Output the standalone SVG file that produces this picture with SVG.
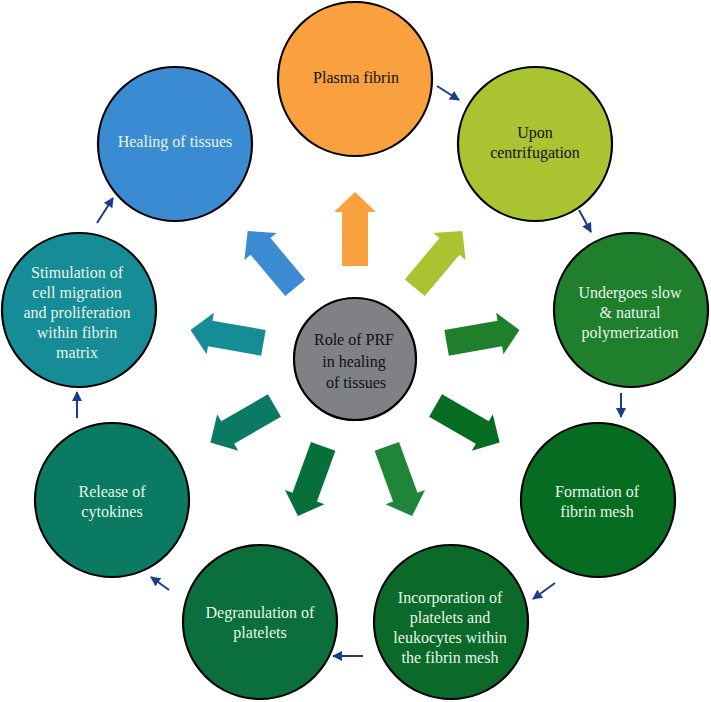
<svg xmlns="http://www.w3.org/2000/svg" width="711" height="702" viewBox="0 0 711 702">
<defs>
<style>
.node{stroke:#000;stroke-width:2.2}
.t{font-family:"Liberation Serif",serif;font-size:16px;text-anchor:middle}
.dk{fill:#111}
.lt{fill:#e6f7e8}
.link{stroke:#1c3c8c;stroke-width:2;fill:none;marker-end:url(#ah)}
</style>
<marker id="ah" viewBox="0 0 10 10" refX="9" refY="5" markerWidth="5" markerHeight="5" orient="auto" markerUnits="strokeWidth">
<path d="M0,0 L10,5 L0,10 z" fill="#1c3c8c"/>
</marker>
<polygon id="blk" points="448,346 502,346 502,338 522,359 502,380 502,372 448,372"/>
</defs>
<rect width="711" height="702" fill="#fff"/>

<g id="big-arrows">
<use href="#blk" fill="#f9a03f" transform="rotate(-90 355 359)"/>
<use href="#blk" fill="#a9c331" transform="rotate(-50 355 359)"/>
<use href="#blk" fill="#1f7f2c" transform="rotate(-10 355 359)"/>
<use href="#blk" fill="#066c22" transform="rotate(30 355 359)"/>
<use href="#blk" fill="#1e8539" transform="rotate(70 355 359)"/>
<use href="#blk" fill="#07703a" transform="rotate(110 355 359)"/>
<use href="#blk" fill="#0a7a63" transform="rotate(150 355 359)"/>
<use href="#blk" fill="#168c96" transform="rotate(190 355 359)"/>
<use href="#blk" fill="#3a8bd2" transform="rotate(230 355 359)"/>
</g>

<g id="connectors">
<line class="link" x1="437" y1="86" x2="459" y2="100"/>
<line class="link" x1="579" y1="210" x2="591" y2="232"/>
<line class="link" x1="621" y1="393" x2="621" y2="417"/>
<line class="link" x1="555" y1="583" x2="533" y2="599"/>
<line class="link" x1="363" y1="656" x2="333" y2="656"/>
<line class="link" x1="169" y1="590" x2="151" y2="577"/>
<line class="link" x1="77" y1="418" x2="77" y2="392"/>
<line class="link" x1="97" y1="223" x2="113" y2="198"/>
</g>

<g id="center">
<circle class="node" cx="355" cy="359" r="61" fill="#7f8184"/>
<text class="t dk"><tspan x="354" y="345">Role of PRF</tspan><tspan x="354" y="367">in healing</tspan><tspan x="356" y="388">of tissues</tspan></text>
</g>

<g id="plasma-fibrin">
<circle class="node" cx="355" cy="79" r="77" fill="#f9a03f"/>
<text class="t dk" x="356" y="83">Plasma fibrin</text>
</g>

<g id="upon-centrifugation">
<circle class="node" cx="535" cy="144" r="77" fill="#a9c331"/>
<text class="t dk"><tspan x="535" y="138">Upon</tspan><tspan x="535" y="158">centrifugation</tspan></text>
</g>

<g id="undergoes">
<circle class="node" cx="631" cy="310" r="77" fill="#1f7f2c"/>
<text class="t lt"><tspan x="630" y="298">Undergoes slow</tspan><tspan x="630" y="318">&amp; natural</tspan><tspan x="630" y="338">polymerization</tspan></text>
</g>

<g id="formation">
<circle class="node" cx="598" cy="500" r="77" fill="#066c22"/>
<text class="t lt"><tspan x="597" y="497">Formation of</tspan><tspan x="597" y="517">fibrin mesh</tspan></text>
</g>

<g id="incorporation">
<circle class="node" cx="451" cy="622" r="77" fill="#0b6a2a"/>
<text class="t lt"><tspan x="450" y="603">Incorporation of</tspan><tspan x="450" y="623">platelets and</tspan><tspan x="450" y="643">leukocytes within</tspan><tspan x="450" y="663">the fibrin mesh</tspan></text>
</g>

<g id="degranulation">
<circle class="node" cx="260" cy="622" r="77" fill="#0a6f3c"/>
<text class="t lt"><tspan x="260" y="618">Degranulation of</tspan><tspan x="260" y="638">platelets</tspan></text>
</g>

<g id="release">
<circle class="node" cx="112" cy="500" r="77" fill="#0a7a63"/>
<text class="t lt"><tspan x="112" y="497">Release of</tspan><tspan x="112" y="517">cytokines</tspan></text>
</g>

<g id="stimulation">
<circle class="node" cx="79" cy="310" r="77" fill="#168c96"/>
<text class="t lt"><tspan x="77" y="278">Stimulation of</tspan><tspan x="77" y="298">cell migration</tspan><tspan x="77" y="318">and proliferation</tspan><tspan x="77" y="338">within fibrin</tspan><tspan x="77" y="358">matrix</tspan></text>
</g>

<g id="healing">
<circle class="node" cx="175" cy="144" r="77" fill="#3a8bd2"/>
<text class="t lt" x="175" y="147">Healing of tissues</text>
</g>
</svg>
